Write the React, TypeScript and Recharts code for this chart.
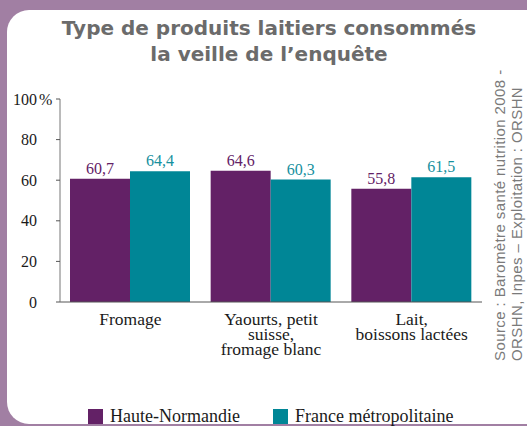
import { BarChart, Bar, XAxis, YAxis, LabelList, Legend } from 'recharts'

const categories = ['Fromage', 'Yaourts, petit\nsuisse,\nfromage blanc', 'Lait,\nboissons lactées']
const hauteNormandie = [60.7, 64.6, 55.8]
const franceMetro = [64.4, 60.3, 61.5]
const yTicks = [0, 20, 40, 60, 80, 100]
const seriesNames = ['Haute-Normandie', 'France métropolitaine']

const PURPLE = '#632166'
const TEAL = '#008696'
const SERIF = '"Liberation Serif", "Times New Roman", serif'
const SANS = '"Liberation Sans", Arial, sans-serif'

const data = categories.map((c, i) => ({ cat: c, hn: hauteNormandie[i], fr: franceMetro[i] }))

const XTick = (props: any) => {
    const { x, y, payload } = props
    const lines = String(payload.value).split('\n')
    return (
        <text x={x} y={y + 23} textAnchor="middle" fontFamily={SERIF} fontSize={17.5} fill="#1a1a1a">
            {lines.map((l, i) => (
                <tspan key={i} x={x} dy={i === 0 ? 0 : 15}>{l}</tspan>
            ))}
        </text>
    )
}

const YTick = (props: any) => {
    const { x, y, payload } = props
    return (
        <g>
            <text x={x - 17} y={y} dy="0.35em" textAnchor="end" fontFamily={SERIF} fontSize={16} fill="#1a1a1a">
                {payload.value}
            </text>
            {payload.value === 100 && (
                <text x={x - 15} y={y} dy="0.35em" textAnchor="start" fontFamily={SERIF} fontSize={16} fill="#1a1a1a">%</text>
            )}
        </g>
    )
}

const fmt = (v: any) => String(v).replace('.', ',')

const LegendContent = () => (
    <div style={{ position: 'relative', height: 18 }}>
        {seriesNames.map((n, i) => (
            <div key={n} style={{ position: 'absolute', left: i === 0 ? 88 : 273, top: 0, height: 17, display: 'flex', alignItems: 'center' }}>
                <div style={{ width: 15, height: 15, background: i === 0 ? PURPLE : TEAL, marginRight: 7 }} />
                <span style={{ fontFamily: SERIF, fontSize: 18, lineHeight: '17px', color: '#1a1a1a' }}>{n}</span>
            </div>
        ))}
    </div>
)

export default function App() {
    return (
        <div style={{ position: 'absolute', left: 0, top: 0, width: 527, height: 426, background: '#a17fa3', overflow: 'hidden' }}>
            <div style={{ position: 'absolute', left: 7, top: 10, width: 560, height: 414, background: '#fff', borderRadius: 22 }} />
            <div style={{
                position: 'absolute', left: 0, top: 15, width: 538, textAlign: 'center',
                fontFamily: '"DejaVu Sans", sans-serif', fontWeight: 'bold', fontSize: 20, lineHeight: '26px', color: '#6b6b6b'
            }}>
                Type de produits laitiers consommés<br />la veille de l’enquête
            </div>
            <div style={{ position: 'absolute', left: 0, top: 0 }}>
                <BarChart width={527} height={426} data={data} barGap={0} barSize={60}
                    margin={{ top: 99, right: 45, left: 10, bottom: 46 }}>
                    <XAxis dataKey="cat" axisLine={{ stroke: '#555' }} tickLine={false} tickSize={0} tickMargin={0}
                        tick={<XTick />} interval={0} height={60} />
                    <YAxis domain={[0, 100]} ticks={yTicks} width={50} axisLine={{ stroke: '#777' }}
                        tickLine={{ stroke: '#555' }} tickSize={4} tickMargin={2} tick={<YTick />} />
                    <Legend content={<LegendContent />} verticalAlign="bottom" wrapperStyle={{ left: 0, width: 527, bottom: 'auto', top: 408 }} />
                    <Bar dataKey="hn" name={seriesNames[0]} fill={PURPLE} isAnimationActive={false}>
                        <LabelList dataKey="hn" position="top" offset={5} formatter={fmt} fill={PURPLE} fontFamily={SERIF} fontSize={16} />
                    </Bar>
                    <Bar dataKey="fr" name={seriesNames[1]} fill={TEAL} isAnimationActive={false}>
                        <LabelList dataKey="fr" position="top" offset={5} formatter={fmt} fill="#16909e" fontFamily={SERIF} fontSize={16} />
                    </Bar>
                </BarChart>
            </div>
            <svg style={{ position: 'absolute', left: 0, top: 0 }} width={527} height={426}>
                <text transform="translate(505,361) rotate(-90)" fontFamily={SANS} fontSize={15} letterSpacing={0.4} fill="#7a7a7a">
                    <tspan x={0} y={0}>Source : Baromètre santé nutrition 2008 -</tspan>
                    <tspan x={0} y={17}>ORSHN, Inpes – Exploitation : ORSHN</tspan>
                </text>
            </svg>
        </div>
    )
}
